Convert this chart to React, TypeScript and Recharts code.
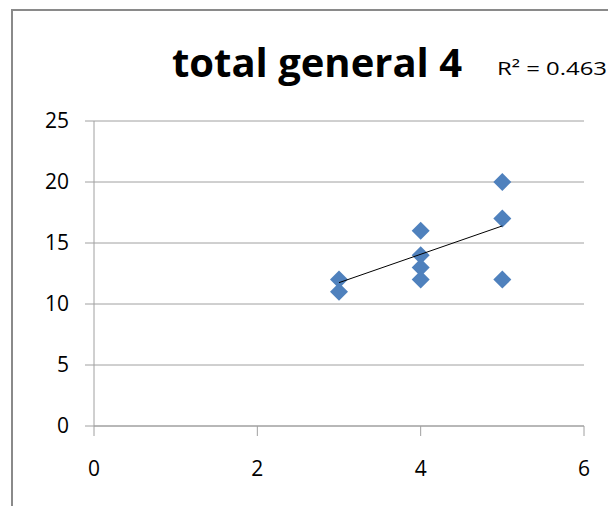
import React from 'react';
import { ScatterChart, Scatter, XAxis, YAxis, CartesianGrid } from 'recharts';

const xValues = [3, 3, 4, 4, 4, 4, 5, 5, 5];
const yValues = [12, 11, 16, 14, 13, 12, 20, 17, 12];
const trendX = [3, 5];
const trendY = [11.75, 16.4];
const xTicks = [0, 2, 4, 6];
const yTicks = [0, 5, 10, 15, 20, 25];
const title = 'total general 4';
const rSquaredLabel = 'R² = 0.463';

const points = xValues.map((x, i) => ({ x, y: yValues[i] }));
const trend = trendX.map((x, i) => ({ x, y: trendY[i] }));

const FONT = '"Open Sans", sans-serif';
const AXIS = '#a0a0a0';

const Diamond = (props: any) => {
  const { cx, cy } = props;
  const r = 9;
  return (
    <polygon
      points={`${cx},${cy - r} ${cx + r},${cy} ${cx},${cy + r} ${cx - r},${cy}`}
      fill="#4F81BD"
    />
  );
};

const NoShape = () => null;

export default function App() {
  return (
    <div style={{ position: 'absolute', left: 0, top: 0, width: 608, height: 506, background: '#fff', overflow: 'hidden' }}>
      <div style={{ position: 'absolute', left: 11, top: 9, width: 700, height: 600, borderLeft: '2px solid #8a8a8a', borderTop: '2px solid #8a8a8a' }} />
      <div style={{ position: 'absolute', left: 0, top: 0 }}>
        <ScatterChart width={608} height={506} margin={{ top: 121, right: 24, bottom: 0, left: 34 }}>
          <CartesianGrid horizontal={true} vertical={false} stroke={AXIS} strokeWidth={1} />
          <XAxis
            type="number"
            dataKey="x"
            domain={[0, 6]}
            ticks={xTicks}
            height={80}
            stroke={AXIS}
            tickSize={10}
            tickMargin={25}
            tick={{ fill: '#000', fontSize: 21, fontFamily: FONT }}
            allowDataOverflow
          />
          <YAxis
            type="number"
            dataKey="y"
            domain={[0, 25]}
            ticks={yTicks}
            width={60}
            stroke={AXIS}
            tickSize={9}
            tickMargin={16}
            tick={{ fill: '#000', fontSize: 21, fontFamily: FONT }}
            allowDataOverflow
          />
          <Scatter data={points} shape={<Diamond />} isAnimationActive={false} />
          <Scatter
            data={trend}
            line={{ stroke: '#000', strokeWidth: 1 }}
            shape={<NoShape />}
            isAnimationActive={false}
          />
        </ScatterChart>
      </div>
      <svg style={{ position: 'absolute', left: 0, top: 0 }} width={608} height={506}>
        <text x={317} y={77} textAnchor="middle" fontFamily={FONT} fontWeight="bold" fontSize={40} fill="#000">
          {title}
        </text>
        <text x={497} y={75} fontFamily={FONT} fontSize={19} fill="#000" textLength={110} lengthAdjust="spacingAndGlyphs">
          {rSquaredLabel}
        </text>
      </svg>
    </div>
  );
}
